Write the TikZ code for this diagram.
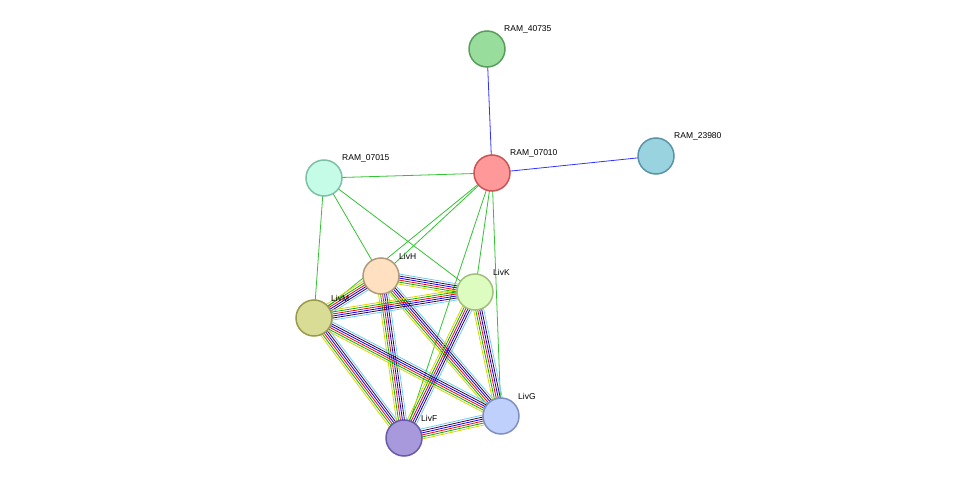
\documentclass[tikz,border=0pt]{standalone}
\usepackage{fontspec}
\setmainfont{Liberation Sans}
\usetikzlibrary{calc}
\definecolor{cA}{HTML}{98DD9C}\definecolor{sA}{HTML}{5A9E5D}
\definecolor{cB}{HTML}{FF9898}\definecolor{sB}{HTML}{C85555}
\definecolor{cC}{HTML}{9AD3E0}\definecolor{sC}{HTML}{5A93A5}
\definecolor{cD}{HTML}{C4FCE8}\definecolor{sD}{HTML}{7EC0A6}
\definecolor{cH}{HTML}{FFE0C0}\definecolor{sH}{HTML}{B09A7A}
\definecolor{cK}{HTML}{DCFCC0}\definecolor{sK}{HTML}{A0C080}
\definecolor{cM}{HTML}{D8DC94}\definecolor{sM}{HTML}{9A9A4A}
\definecolor{cF}{HTML}{A898DC}\definecolor{sF}{HTML}{6A5AA8}
\definecolor{cG}{HTML}{C0D0FC}\definecolor{sG}{HTML}{8090C0}
\tikzset{
  prot/.style={circle,minimum size=36pt,inner sep=0pt,line width=1.5pt},
  lbl/.style={font=\fontsize{8.5}{10}\selectfont,anchor=south west,inner sep=1pt},
  tx/.style={green!70!black!80,line width=0.8pt},
  bl/.style={blue!80,line width=0.8pt}
}
\newcommand{\bundle}[2]{%
  \foreach \o/\c in {-5/yellow!70!olive,-3/green!70!black,-1/red,1/blue,3/violet!50!black,5/cyan!60}
    \draw[\c,line width=0.8pt] ($(#1)!\o pt!90:(#2)$) -- ($(#2)!\o pt!-90:(#1)$);}
\begin{document}
\begin{tikzpicture}[x=1pt,y=-1pt]
  \useasboundingbox (0,0) rectangle (975,484);
  % node positions
  \coordinate (p40735) at (487,49);
  \coordinate (p07010) at (492,173);
  \coordinate (p23980) at (656,156);
  \coordinate (p07015) at (324,178);
  \coordinate (pH) at (381,276);
  \coordinate (pK) at (475,292);
  \coordinate (pM) at (314,318);
  \coordinate (pF) at (404,438);
  \coordinate (pG) at (501,416);

  % edges
  \draw[bl] (p40735) -- (p07010);
  \draw[bl] (p07010) -- (p23980);
  \foreach \t in {p07015,pH,pK,pM,pF,pG}
    \draw[tx] (p07010) -- (\t);
  \foreach \t in {pH,pM,pK}
    \draw[tx] (p07015) -- (\t);
  \bundle{pH}{pK}
  \bundle{pH}{pM}
  \bundle{pH}{pF}
  \bundle{pH}{pG}
  \bundle{pK}{pM}
  \bundle{pK}{pF}
  \bundle{pK}{pG}
  \bundle{pM}{pF}
  \bundle{pM}{pG}
  \bundle{pF}{pG}

  % proteins
  \node[prot,fill=cA,draw=sA] (n40735) at (p40735) {};
  \node[prot,fill=cB,draw=sB] (n07010) at (p07010) {};
  \node[prot,fill=cC,draw=sC] (n23980) at (p23980) {};
  \node[prot,fill=cD,draw=sD] (n07015) at (p07015) {};
  \node[prot,fill=cH,draw=sH] (nH) at (pH) {};
  \node[prot,fill=cK,draw=sK] (nK) at (pK) {};
  \node[prot,fill=cM,draw=sM] (nM) at (pM) {};
  \node[prot,fill=cF,draw=sF] (nF) at (pF) {};
  \node[prot,fill=cG,draw=sG] (nG) at (pG) {};

  \node[lbl] at (503,34) {RAM\_40735};
  \node[lbl] at (509,158) {RAM\_07010};
  \node[lbl] at (673,141) {RAM\_23980};
  \node[lbl] at (341,163) {RAM\_07015};
  \node[lbl] at (398,261) {LivH};
  \node[lbl] at (492,277) {LivK};
  \node[lbl] at (330,303) {LivM};
  \node[lbl] at (420,423) {LivF};
  \node[lbl] at (517,401) {LivG};
\end{tikzpicture}
\end{document}
